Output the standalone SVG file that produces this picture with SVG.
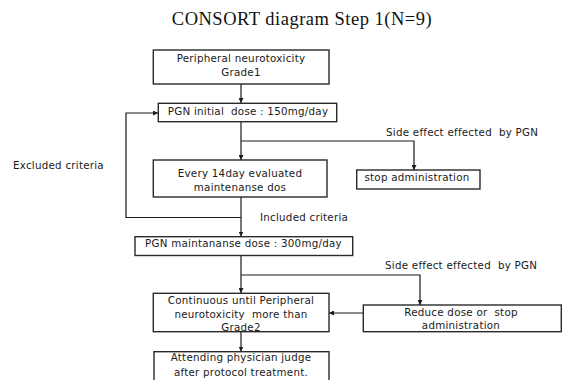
<svg xmlns="http://www.w3.org/2000/svg" width="563" height="380" viewBox="0 0 563 380">
<defs>
<style>
.box{fill:#fff;stroke:#2a2a2a;stroke-width:1.4}
.t{font-family:"DejaVu Sans",Verdana,sans-serif;font-size:10.3px;fill:#1a1a1a;letter-spacing:0.25px;white-space:pre}
.c{text-anchor:middle}
.ln{fill:none;stroke:#1a1a1a;stroke-width:1.2}
.title{font-family:"Liberation Serif","Times New Roman",serif;font-size:18.5px;fill:#111;letter-spacing:0.5px;text-anchor:middle}
</style>
<marker id="ah" viewBox="0 0 8 8" refX="8" refY="4" markerWidth="5" markerHeight="5" orient="auto" markerUnits="userSpaceOnUse">
<path d="M0,0 L8,4 L0,8 z" fill="#1a1a1a"/>
</marker>
</defs>
<rect width="563" height="380" fill="#fff"/>
<text class="title" x="302" y="25">CONSORT diagram Step 1(N=9)</text>

<g id="connectors">
<line class="ln" x1="241" y1="84" x2="241" y2="103" marker-end="url(#ah)"/>
<line class="ln" x1="241" y1="122" x2="241" y2="160" marker-end="url(#ah)"/>
<polyline class="ln" points="241,141 414,141 414,170" marker-end="url(#ah)"/>
<line class="ln" x1="241" y1="197" x2="241" y2="236.5" marker-end="url(#ah)"/>
<polyline class="ln" points="241,217.5 126,217.5 126,113 158,113" marker-end="url(#ah)"/>
<line class="ln" x1="241" y1="255.5" x2="241" y2="293" marker-end="url(#ah)"/>
<polyline class="ln" points="241,275 420,275 420,305" marker-end="url(#ah)"/>
<line class="ln" x1="363" y1="313" x2="329" y2="313" marker-end="url(#ah)"/>
<line class="ln" x1="241" y1="332" x2="241" y2="351.5" marker-end="url(#ah)"/>
</g>

<g id="labels">
<text class="t" x="13" y="169">Excluded criteria</text>
<text class="t" x="386" y="135.5">Side effect effected  by PGN</text>
<text class="t" x="260" y="220.5">Included criteria</text>
<text class="t" x="385" y="268.5">Side effect effected  by PGN</text>
</g>

<g id="n1">
<rect class="box" x="153.3" y="50" width="175.7" height="34"/>
<text class="t c" x="241" y="62">Peripheral neurotoxicity</text>
<text class="t c" x="241" y="76">Grade1</text>
</g>
<g id="n2">
<rect class="box" x="158.3" y="103.3" width="178.4" height="18.4"/>
<text class="t c" x="248" y="115">PGN initial  dose : 150mg/day</text>
</g>
<g id="n3">
<rect class="box" x="153.3" y="160" width="173.7" height="37"/>
<text class="t c" x="240" y="177">Every 14day evaluated</text>
<text class="t c" x="240" y="191">maintenanse dos</text>
</g>
<g id="n4">
<rect class="box" x="356.7" y="170" width="123.3" height="19"/>
<text class="t c" x="417" y="181">stop administration</text>
</g>
<g id="n5">
<rect class="box" x="135" y="236.7" width="217.7" height="18.8"/>
<text class="t c" x="243.5" y="247">PGN maintananse dose : 300mg/day</text>
</g>
<g id="n6">
<rect class="box" x="153.3" y="293.3" width="175.7" height="38.4"/>
<text class="t c" x="241" y="304">Continuous until Peripheral</text>
<text class="t c" x="241" y="317.5">neurotoxicity  more than</text>
<text class="t c" x="241" y="331">Grade2</text>
</g>
<g id="n7">
<rect class="box" x="363.3" y="305" width="198" height="26.7"/>
<text class="t c" x="461" y="315.5">Reduce dose or  stop</text>
<text class="t c" x="461" y="329">administration</text>
</g>
<g id="n8">
<rect class="box" x="154" y="351.7" width="175" height="32"/>
<text class="t c" x="241" y="361">Attending physician judge</text>
<text class="t c" x="241" y="375.5">after protocol treatment.</text>
</g>
</svg>
